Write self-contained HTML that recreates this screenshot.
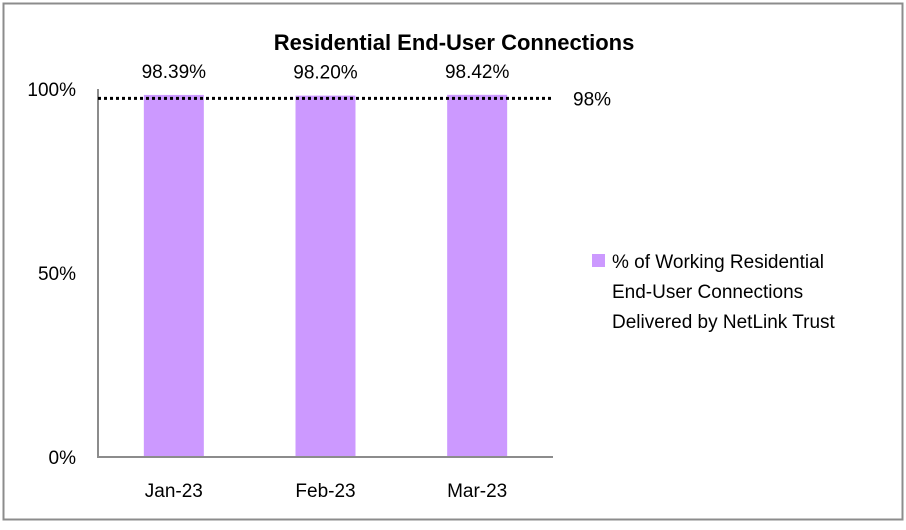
<!DOCTYPE html>
<html><head><meta charset="utf-8"><style>
body{margin:0;background:#fff;font-family:"Liberation Sans",Calibri,sans-serif}
</style></head><body>
<svg width="906" height="525" xmlns="http://www.w3.org/2000/svg" font-family="Liberation Sans, sans-serif">
<rect x="3.5" y="3.5" width="899" height="516" fill="#fff" stroke="#8c8c8c" stroke-width="2"/>
<text x="454" y="50" text-anchor="middle" font-size="22" font-weight="bold">Residential End-User Connections</text>
<g id="plot"></g>
<rect x="592" y="254" width="13" height="13" fill="#cc99ff"/>
<text font-size="19"><tspan x="612" y="268">% of Working Residential</tspan><tspan x="612" y="298">End-User Connections</tspan><tspan x="612" y="328">Delivered by NetLink Trust</tspan></text>
</svg>
<script>
const categories=["Jan-23","Feb-23","Mar-23"];
const values=[98.39,98.20,98.42];
const valueLabels=["98.39%","98.20%","98.42%"];
const yTicks=[0,50,100];
const target=98;
const ns="http://www.w3.org/2000/svg";
const g=document.getElementById("plot");
const x0=98,x1=553,yTop=89,yBot=457;
const y=v=>yBot-(v/100)*(yBot-yTop);
const step=(x1-x0)/categories.length;
const xc=i=>x0+step*(i+0.5);
function mk(t,a,txt){const e=document.createElementNS(ns,t);for(const k in a)e.setAttribute(k,a[k]);if(txt!==undefined)e.textContent=txt;g.appendChild(e);return e;}
categories.forEach((c,i)=>{
 const b=mk("rect",{x:xc(i)-30,y:y(values[i]),width:60,height:yBot-y(values[i]),fill:"#cc99ff"});
 
 
 const l=mk("text",{x:xc(i),y:y(values[i])-17,"text-anchor":"middle","font-size":19},valueLabels[i]);
 
 
 const t=mk("text",{x:xc(i),y:yBot+40,"text-anchor":"middle","font-size":19},c);
 
 
});
yTicks.forEach(v=>{
 const t=mk("text",{x:76,y:y(v)+7,"text-anchor":"end","font-size":19},v+"%");
 
 
});
const ax=mk("path",{d:`M${x0},${yTop}V${yBot}H${x1}`,fill:"none",stroke:"#8c8c8c","stroke-width":2});


const tl=mk("line",{x1:x0,x2:x1,y1:y(target)+2,y2:y(target)+2,stroke:"#000","stroke-width":3,"stroke-dasharray":"3 3"});


const tt=mk("text",{x:573,y:y(target)+9,"font-size":19},target+"%");


</script>
</body></html>
